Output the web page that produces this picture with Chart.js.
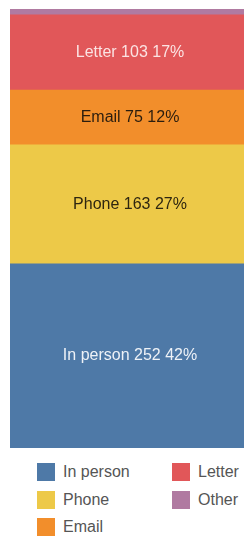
<!DOCTYPE html>
<html>
<head>
<meta charset="utf-8">
<script src="https://cdn.jsdelivr.net/npm/chart.js@4/dist/chart.umd.min.js"></script>
<style>
  html, body { margin: 0; padding: 0; background: #fff; overflow: hidden; width: 244px; height: 536px; }
  #wrap { position: absolute; left: 0; top: 0; width: 250px; height: 448px; }
  #legend { position: absolute; left: 37px; top: 463px; display: grid; grid-auto-flow: column;
    grid-template-rows: repeat(3, 27.5px); grid-template-columns: 135px 80px;
    font-family: "Liberation Sans", Arial, sans-serif; font-size: 16px; color: #555; }
  .item { display: flex; align-items: flex-start; height: 27.5px; }
  .sw { width: 18px; height: 18px; margin-right: 8px; flex: none; }
  .lt { line-height: 18px; }
</style>
</head>
<body>
<div id="wrap"><canvas id="c"></canvas></div>
<div id="legend"></div>
<script>
const categories = ["In person", "Phone", "Email", "Letter", "Other"];
const values = [252, 163, 75, 103, 8];
const colors = ["#4e79a7", "#edc948", "#f28e2b", "#e15759", "#b07aa1"];
const labelColors = ["#eef2f7", "#2e2610", "#2b1d0e", "#fbe3e3", null];

const total = values.reduce((a, b) => a + b, 0);

const segmentLabels = {
  id: 'segmentLabels',
  afterDatasetsDraw(chart) {
    const ctx = chart.ctx;
    const area = chart.chartArea;
    ctx.save();
    ctx.font = '16px "Liberation Sans", Arial, sans-serif';
    ctx.textAlign = 'center';
    ctx.textBaseline = 'middle';
    chart.data.datasets.forEach((ds, i) => {
      if (!labelColors[i]) return;
      const el = chart.getDatasetMeta(i).data[0];
      const v = ds.data[0];
      const pct = Math.round(v / total * 100);
      ctx.fillStyle = labelColors[i];
      ctx.fillText(`${ds.label} ${v} ${pct}%`, (area.left + area.right) / 2, (el.y + el.base) / 2);
    });
    ctx.restore();
  }
};

new Chart(document.getElementById('c'), {
  type: 'bar',
  data: {
    labels: [''],
    datasets: categories.map((c, i) => ({
      label: c,
      data: [values[i]],
      backgroundColor: colors[i],
      borderWidth: 0,
      categoryPercentage: 1,
      barPercentage: 1
    }))
  },
  options: {
    responsive: true,
    maintainAspectRatio: false,
    animation: false,
    layout: { padding: { left: 10, top: 9, right: 0, bottom: 0 } },
    plugins: { legend: { display: false }, tooltip: { enabled: false } },
    scales: {
      x: { stacked: true, display: false },
      y: { stacked: true, display: false, min: 0, max: total }
    }
  },
  plugins: [segmentLabels]
});

const legend = document.getElementById('legend');
categories.forEach((c, i) => {
  const it = document.createElement('div');
  it.className = 'item';
  it.innerHTML = `<span class="sw" style="background:${colors[i]}"></span><span class="lt">${c}</span>`;
  legend.appendChild(it);
});
</script>
</body>
</html>
